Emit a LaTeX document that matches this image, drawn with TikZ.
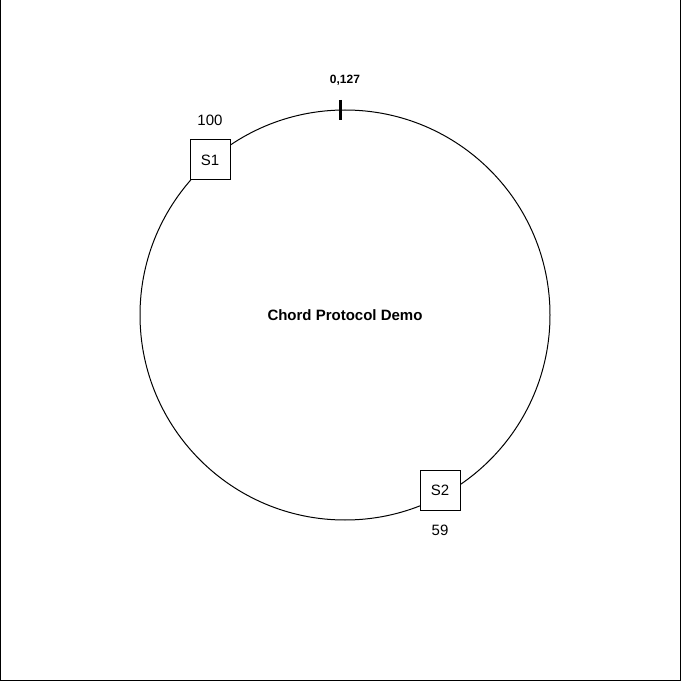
\documentclass[tikz,border=0pt]{standalone}
\usepackage{fontspec}
\setmainfont{Liberation Sans}
\begin{document}
\begin{tikzpicture}[x=0.75pt,y=-0.75pt,line width=0.75pt,server node/.style={rectangle,draw,fill=white,minimum size=30pt,inner sep=0pt,font=\fontsize{11.25}{13}\selectfont},id node/.style={font=\fontsize{11.25}{13}\selectfont}]
                \useasboundingbox (0,0) rectangle (682,681);
                \draw (0.5,0) -- (0.5,680.5) -- (680.5,680.5) -- (680.5,0);

                \node[circle,draw,minimum size=307.5pt,inner sep=0pt] at (345,315) (ring) {};
                \node[font=\bfseries\fontsize{11.25}{13}\selectfont] at (345,315) (title) {Chord Protocol Demo};

                \coordinate (tick top) at (340,100);
                \coordinate (tick bottom) at (340,120);
                \draw[line width=2.25pt] (tick top) -- (tick bottom);
                \node[font=\bfseries\fontsize{9}{11}\selectfont] at (345,80) (zero) {0,127};

                \node[server node] at (210,160) (s1) {S1};
                \node[server node] at (440,490) (s2) {S2};
                \node[id node] at (210,120) (s1 id) {100};
                \node[id node] at (440,530) (s2 id) {59};
            \end{tikzpicture}
\end{document}
